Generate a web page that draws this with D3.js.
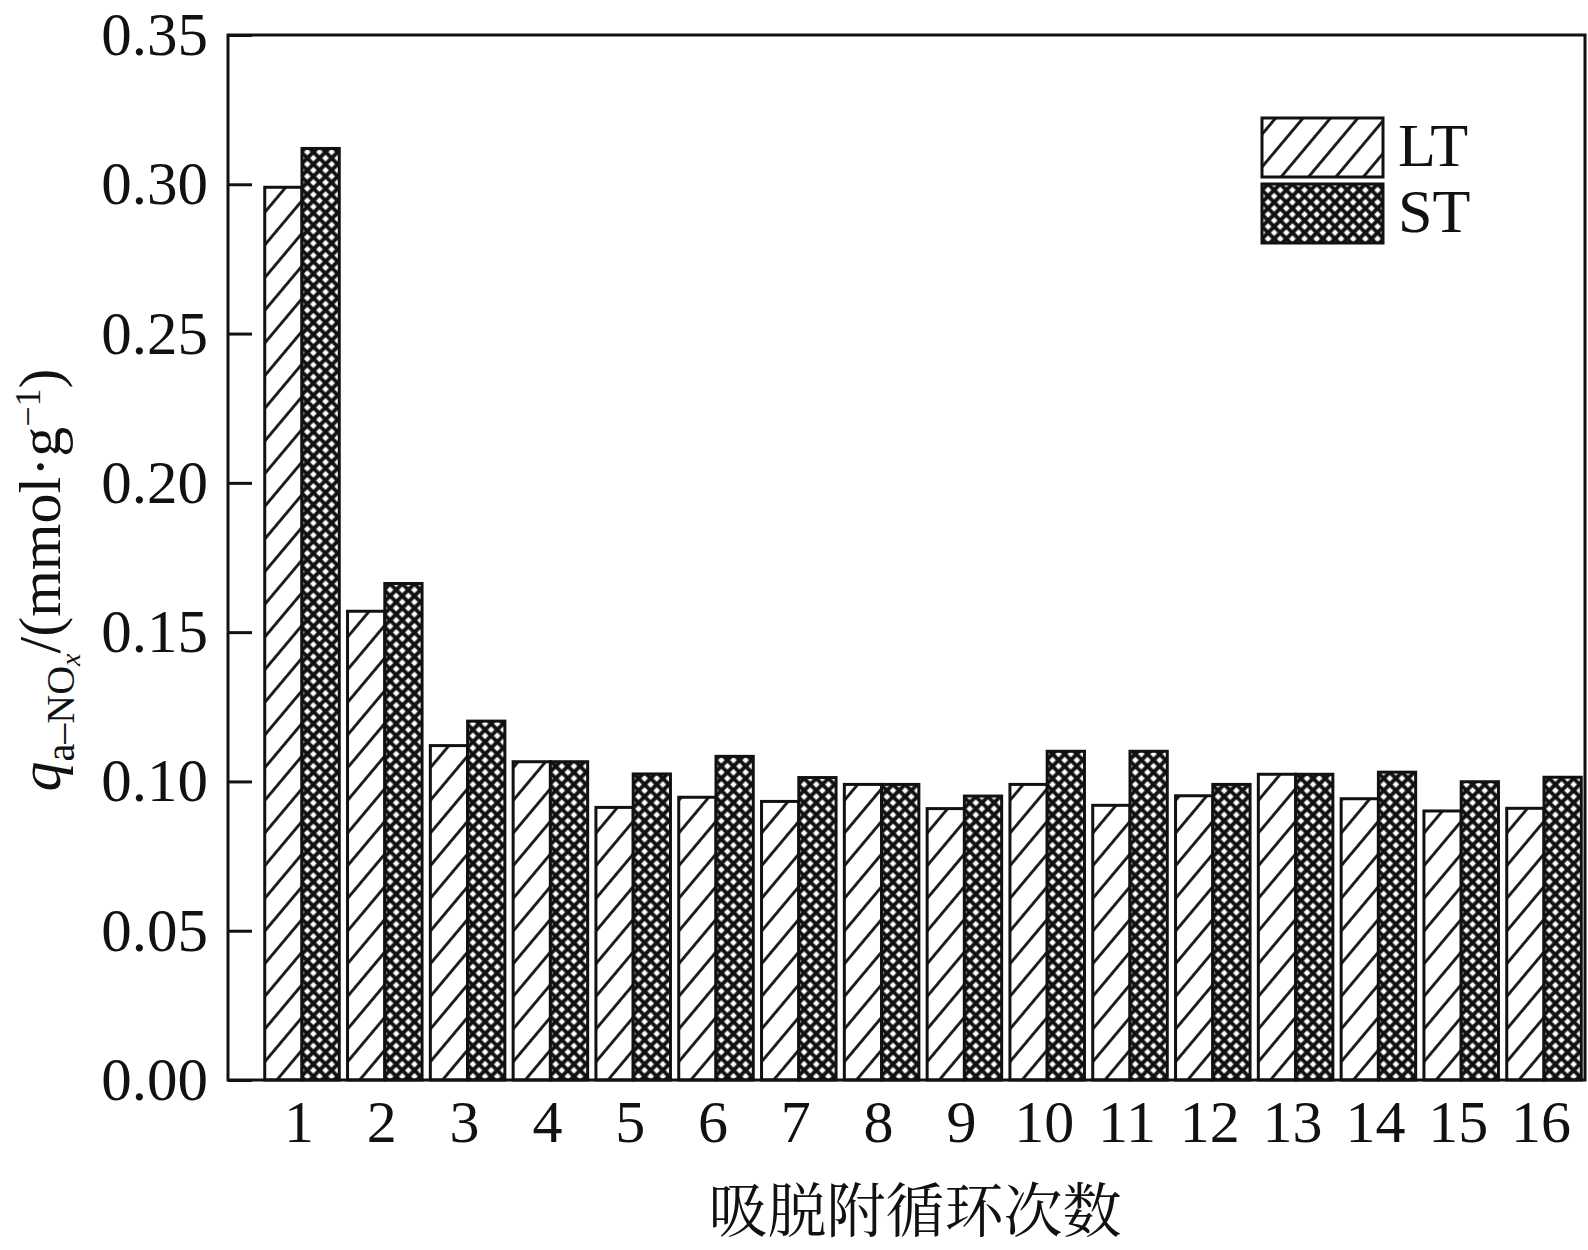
<!DOCTYPE html>
<html>
<head>
<meta charset="utf-8">
<script src="https://cdnjs.cloudflare.com/ajax/libs/d3/7.8.5/d3.min.js"></script>
<style>
  body { margin: 0; background: #fff; }
  text { font-family: "Liberation Serif", "Times New Roman", serif; fill: #111; }
  .cjk { font-family: "Noto Serif CJK SC", "Noto Sans CJK SC", sans-serif; }
</style>
</head>
<body>
<div class="chart"></div>
<script>
"use strict";

var cycles = ["1","2","3","4","5","6","7","8","9","10","11","12","13","14","15","16"];
var ltValues = [0.299, 0.157, 0.112, 0.1066, 0.0913, 0.0947, 0.0933, 0.099, 0.0909, 0.099, 0.092, 0.0952, 0.1024, 0.0942, 0.0901, 0.091];
var stValues = [0.312, 0.1663, 0.1202, 0.1066, 0.1025, 0.1084, 0.1013, 0.099, 0.0951, 0.1101, 0.1101, 0.099, 0.1024, 0.1031, 0.0999, 0.1014];
var yTicks = [0, 0.05, 0.10, 0.15, 0.20, 0.25, 0.30, 0.35];
var seriesNames = ["LT", "ST"];

var width = 1588,
    height = 1250;

var plot = {left: 228, right: 1585, top: 35, bottom: 1080};

var svg = d3.select(".chart")
          .append("svg")
          .attr("width", width)
          .attr("height", height);

var defs = svg.append("defs");

// single hatch for LT
var hatch = defs.append("pattern")
    .attr("id", "hatch")
    .attr("patternUnits", "userSpaceOnUse")
    .attr("width", 21)
    .attr("height", 21)
    .attr("patternTransform", "rotate(40)");
hatch.append("rect").attr("width", 21).attr("height", 21).attr("fill", "#fff");
hatch.append("line")
    .attr("x1", 10.5).attr("y1", 0).attr("x2", 10.5).attr("y2", 21)
    .attr("stroke", "#111").attr("stroke-width", 2.8);

// cross hatch for ST
var cross = defs.append("pattern")
    .attr("id", "cross")
    .attr("patternUnits", "userSpaceOnUse")
    .attr("width", 8.6)
    .attr("height", 8.6)
    .attr("patternTransform", "rotate(45)");
cross.append("rect").attr("width", 8.6).attr("height", 8.6).attr("fill", "#fff");
cross.append("path")
    .attr("d", "M0,4.3H8.6M4.3,0V8.6")
    .attr("stroke", "#111").attr("stroke-width", 3.9);

var fills = {LT: "url(#hatch)", ST: "url(#cross)"};

var x = d3.scaleBand()
    .domain(cycles)
    .range([260.6, 1585.4])
    .paddingInner(0.1)
    .paddingOuter(0.05);

var xSub = d3.scaleBand()
    .domain(seriesNames)
    .range([0, x.bandwidth()]);

var y = d3.scaleLinear()
    .domain([0, 0.35])
    .range([plot.bottom, plot.top]);

var rows = cycles.map(function(c, i){
  return {cycle: c, LT: ltValues[i], ST: stValues[i]};
});

// bars
var groups = svg.append("g")
    .selectAll("g")
    .data(rows)
    .enter().append("g")
      .attr("transform", function(d){ return "translate(" + x(d.cycle) + ",0)"; });

groups.selectAll("rect")
    .data(function(d){ return seriesNames.map(function(k){ return {key: k, value: d[k]}; }); })
    .enter().append("rect")
      .attr("x", function(d){ return xSub(d.key); })
      .attr("y", function(d){ return y(d.value); })
      .attr("width", xSub.bandwidth())
      .attr("height", function(d){ return y(0) - y(d.value); })
      .attr("fill", function(d){ return fills[d.key]; })
      .attr("stroke", "#111")
      .attr("stroke-width", 3);

// frame
svg.append("rect")
    .attr("x", plot.left)
    .attr("y", plot.top)
    .attr("width", plot.right - plot.left)
    .attr("height", plot.bottom - plot.top)
    .attr("fill", "none")
    .attr("stroke", "#111")
    .attr("stroke-width", 3);

// y axis, ticks pointing inward
var yAxis = svg.append("g")
    .attr("transform", "translate(" + plot.left + ",0)")
    .call(d3.axisLeft(y).tickValues(yTicks).tickSizeInner(-24).tickSizeOuter(0).tickPadding(20)
          .tickFormat(d3.format(".2f")));
yAxis.select(".domain").remove();
yAxis.selectAll(".tick line").attr("stroke", "#111").attr("stroke-width", 3);
yAxis.selectAll(".tick text")
    .attr("font-size", 61)
    .attr("font-family", "Liberation Serif")
    .attr("fill", "#111");

// x axis labels
var xAxis = svg.append("g")
    .attr("transform", "translate(0," + plot.bottom + ")")
    .call(d3.axisBottom(x).tickSize(0).tickPadding(19));
xAxis.select(".domain").remove();
xAxis.selectAll(".tick text")
    .attr("font-size", 60)
    .attr("font-family", "Liberation Serif")
    .attr("fill", "#111")
    .attr("dx", -3);

// x title
svg.append("text")
    .attr("class", "cjk")
    .attr("x", 915)
    .attr("y", 1206)
    .attr("text-anchor", "middle")
    .attr("dominant-baseline", "central")
    .attr("font-size", 59)
    .text("吸脱附循环次数");

// y title
var yTitle = svg.append("text")
    .attr("transform", "translate(60,580) rotate(-90)")
    .attr("text-anchor", "middle")
    .attr("font-size", 60);
yTitle.append("tspan").attr("font-style", "italic").text("q");
yTitle.append("tspan").attr("font-size", 40).attr("dy", 14).text("a\u2013NO");
yTitle.append("tspan").attr("font-size", 28).attr("font-style", "italic").attr("dy", 6).text("x");
yTitle.append("tspan").attr("dy", -20).text("/(mmol\u00b7g");
yTitle.append("tspan").attr("font-size", 36).attr("dy", -20).text("\u22121");
yTitle.append("tspan").attr("dy", 20).text(")");

// legend
var legend = svg.append("g")
    .selectAll("g")
    .data(seriesNames)
    .enter().append("g")
      .attr("transform", function(d, i){ return "translate(1262," + (118 + i * 66) + ")"; });

legend.append("rect")
    .attr("width", 121)
    .attr("height", 59)
    .attr("fill", function(d){ return fills[d]; })
    .attr("stroke", "#111")
    .attr("stroke-width", 3);

legend.append("text")
    .attr("x", 136)
    .attr("y", 48)
    .attr("font-size", 62)
    .text(function(d){ return d; });
</script>
</body>
</html>
